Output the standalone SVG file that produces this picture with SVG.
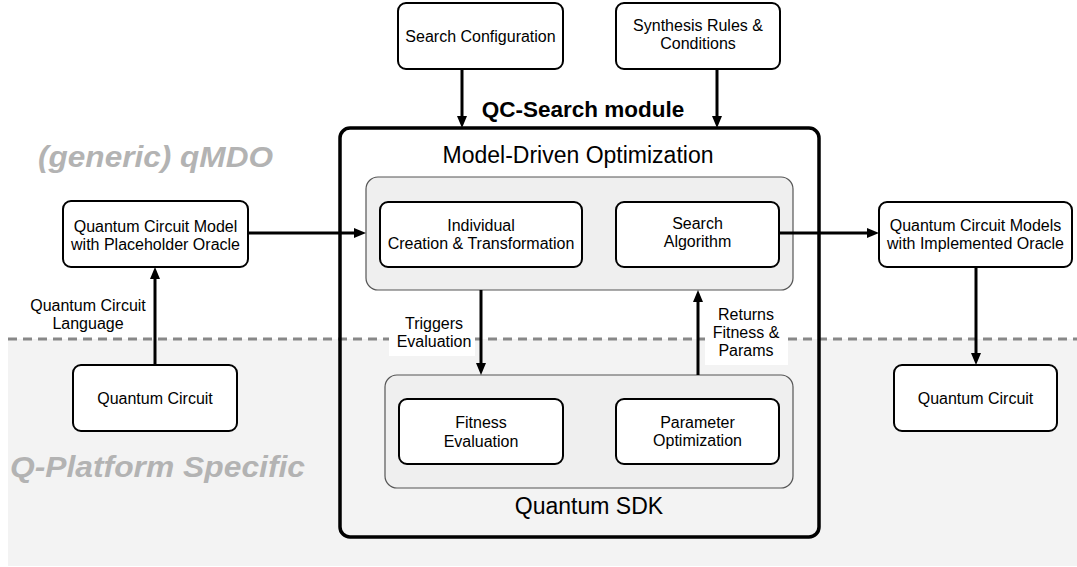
<svg xmlns="http://www.w3.org/2000/svg" width="1077" height="567" viewBox="0 0 1077 567">
<defs>
<style>
text{font-family:"Liberation Sans",Arial,Helvetica,sans-serif;fill:#000;}
.t16{font-size:16px;text-anchor:middle;}
.t23{font-size:23px;text-anchor:middle;}
.zone{font-size:30px;font-weight:bold;font-style:italic;fill:#b3b3b3;}
.box{fill:#fff;stroke:#000;stroke-width:2;}
.cont{fill:#efefef;stroke:#555;stroke-width:1.2;}
.conn{stroke:#000;stroke-width:3;fill:none;marker-end:url(#ah);}
.lblbg{fill:#fff;}
</style>
<marker id="ah" viewBox="0 0 12 10" markerUnits="userSpaceOnUse" markerWidth="12" markerHeight="10" refX="2" refY="5" orient="auto">
<path d="M0,0 L12,5 L0,10 z" fill="#000"/>
</marker>
</defs>
<rect x="0" y="0" width="1077" height="567" fill="#fff"/>
<g id="platform-zone">
<rect x="8" y="339" width="1069" height="227" fill="#f3f3f3"/>
<line x1="8" y1="339" x2="1077" y2="339" stroke="#888" stroke-width="3" stroke-dasharray="9 6"/>
<text class="zone" x="38" y="167" textLength="235" lengthAdjust="spacingAndGlyphs">(generic) qMDO</text>
<text class="zone" x="10" y="477" textLength="295" lengthAdjust="spacingAndGlyphs">Q-Platform Specific</text>
</g>
<g id="qc-search-module">
<rect x="340" y="128" width="479" height="409" rx="10" fill="none" stroke="#000" stroke-width="3.5"/>
<text x="583" y="117" font-size="22.5" font-weight="bold" text-anchor="middle">QC-Search module</text>
<text class="t23" x="578" y="163">Model-Driven Optimization</text>
<text class="t23" x="589" y="514">Quantum SDK</text>
</g>
<g id="mdo-container"><rect class="cont" x="366" y="177" width="427" height="113" rx="12"/></g>
<g id="sdk-container"><rect class="cont" x="385" y="375" width="408" height="113" rx="12"/></g>
<g id="search-config">
<rect class="box" x="398" y="3" width="165" height="66" rx="8"/>
<text class="t16" x="480.5" y="42">Search Configuration</text>
</g>
<g id="synthesis-rules">
<rect class="box" x="616" y="3" width="164" height="66" rx="8"/>
<text class="t16" x="698" y="31">Synthesis Rules &amp;</text>
<text class="t16" x="698" y="49">Conditions</text>
</g>
<g id="qcm-placeholder">
<rect class="box" x="63" y="201" width="185" height="66" rx="8"/>
<text class="t16" x="155.5" y="232">Quantum Circuit Model</text>
<text class="t16" x="155.5" y="250">with Placeholder Oracle</text>
</g>
<g id="qc-left">
<rect class="box" x="73" y="365" width="164" height="66" rx="8"/>
<text class="t16" x="155" y="404">Quantum Circuit</text>
</g>
<g id="individual-creation">
<rect class="box" x="380" y="202" width="202" height="65" rx="8"/>
<text class="t16" x="481" y="231">Individual</text>
<text class="t16" x="481" y="249">Creation &amp; Transformation</text>
</g>
<g id="search-algorithm">
<rect class="box" x="616" y="202" width="163" height="65" rx="8"/>
<text class="t16" x="697.5" y="229">Search</text>
<text class="t16" x="697.5" y="247">Algorithm</text>
</g>
<g id="fitness-evaluation">
<rect class="box" x="399" y="399" width="164" height="65" rx="8"/>
<text class="t16" x="481" y="428">Fitness</text>
<text class="t16" x="481" y="447">Evaluation</text>
</g>
<g id="parameter-optimization">
<rect class="box" x="616" y="399" width="163" height="65" rx="8"/>
<text class="t16" x="697.5" y="428">Parameter</text>
<text class="t16" x="697.5" y="446">Optimization</text>
</g>
<g id="qcm-implemented">
<rect class="box" x="879" y="202" width="193" height="65" rx="8"/>
<text class="t16" x="975.5" y="231">Quantum Circuit Models</text>
<text class="t16" x="975.5" y="249">with Implemented Oracle</text>
</g>
<g id="qc-right">
<rect class="box" x="894" y="365" width="163" height="66" rx="8"/>
<text class="t16" x="975.5" y="404">Quantum Circuit</text>
</g>
<g id="connectors">
<line class="conn" x1="462" y1="69" x2="462" y2="118"/>
<line class="conn" x1="717" y1="69" x2="717" y2="118"/>
<line class="conn" x1="248" y1="233" x2="356" y2="233"/>
<line class="conn" x1="779" y1="233" x2="869" y2="233"/>
<line class="conn" x1="155" y1="365" x2="155" y2="277"/>
<line class="conn" x1="976" y1="267" x2="976" y2="355"/>
<line class="conn" x1="481" y1="290" x2="481" y2="365"/>
<line class="conn" x1="698" y1="375" x2="698" y2="300"/>
<rect class="lblbg" x="389" y="310" width="86" height="46"/>
<rect class="lblbg" x="705" y="303" width="83" height="62"/>
<text class="t16" x="88" y="311">Quantum Circuit</text>
<text class="t16" x="88" y="329">Language</text>
<text class="t16" x="434" y="329">Triggers</text>
<text class="t16" x="434" y="347">Evaluation</text>
<text class="t16" x="746" y="320">Returns</text>
<text class="t16" x="746" y="338">Fitness &amp;</text>
<text class="t16" x="746" y="356">Params</text>
</g>
</svg>
